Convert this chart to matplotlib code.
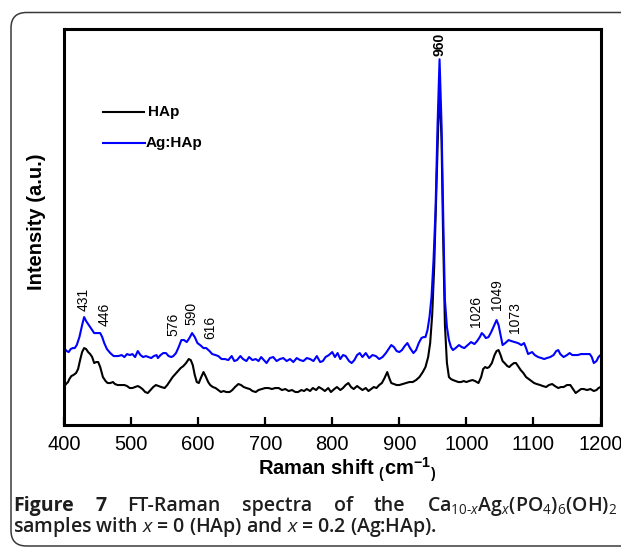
import matplotlib
matplotlib.use('Agg')
from matplotlib import pyplot as plt
import matplotlib.patches as patches

plt.rcParams['font.family'] = ['Liberation Sans', 'DejaVu Sans']
plt.rcParams['mathtext.fontset'] = 'custom'
plt.rcParams['mathtext.rm'] = 'Open Sans'
plt.rcParams['mathtext.it'] = 'Open Sans:italic'
plt.rcParams['mathtext.bf'] = 'Liberation Sans:bold'

# spectres (intensite en unites arbitraires)
wn_agHAp = [400, 404, 407, 410, 413, 416, 419, 423, 427, 430, 433, 437, 441, 445, 450, 454, 457, 460,
            464, 469, 474, 478, 481, 486, 490, 494, 498, 502, 506, 510, 514, 518, 522, 526, 530, 534,
            538, 540, 544, 548, 552, 556, 560, 563, 567, 571, 575, 579, 583, 587, 591, 595, 599, 603,
            608, 612, 617, 621, 626, 630, 635, 640, 645, 650, 654, 658, 663, 667, 672, 676, 681, 686,
            690, 694, 698, 702, 707, 712, 717, 722, 727, 732, 737, 742, 747, 752, 757, 762, 767, 772,
            777, 782, 786, 790, 795, 800, 804, 808, 812, 816, 820, 825, 829, 833, 837, 841, 845, 850,
            855, 860, 865, 870, 875, 880, 884, 888, 892, 896, 900, 904, 908, 912, 916, 921, 925, 929,
            933, 936, 939, 942, 945, 948, 951, 954, 957, 960, 963, 966, 968, 971, 974, 977, 980, 984,
            989, 993, 997, 1002, 1007, 1012, 1016, 1020, 1023, 1026, 1029, 1033, 1037, 1041, 1045,
            1048, 1051, 1054, 1058, 1063, 1067, 1072, 1077, 1082, 1086, 1089, 1092, 1095, 1098, 1102,
            1107, 1112, 1116, 1120, 1125, 1130, 1134, 1137, 1140, 1145, 1150, 1154, 1158, 1162, 1166,
            1171, 1176, 1180, 1184, 1187, 1190, 1194, 1197, 1200]
int_agHAp = [77, 74, 73, 76, 77, 77, 80, 88, 100, 108, 104, 100, 96, 92, 92, 92, 88, 82,
             76, 72, 69, 69, 69, 70, 68, 71, 70, 71, 68, 74, 70, 68, 69, 68, 67, 69,
             70, 67, 70, 72, 72, 69, 68, 69, 72, 78, 85, 85, 83, 87, 92, 88, 82, 80,
             77, 77, 74, 71, 70, 69, 66, 66, 65, 69, 64, 65, 69, 66, 64, 68, 65, 66,
             64, 68, 65, 62, 67, 68, 64, 66, 67, 64, 66, 63, 67, 65, 64, 67, 66, 64,
             69, 63, 64, 68, 70, 73, 68, 72, 66, 70, 69, 64, 62, 65, 70, 72, 68, 72,
             67, 70, 69, 66, 68, 72, 76, 80, 78, 74, 73, 75, 79, 82, 77, 72, 75, 82,
             87, 88, 88, 95, 108, 128, 165, 215, 300, 366, 300, 190, 125, 98, 85, 78, 75, 77,
             80, 78, 77, 80, 83, 81, 84, 88, 92, 90, 87, 88, 93, 99, 105,
             100, 90, 80, 82, 85, 84, 83, 82, 80, 82, 77, 71, 72, 73, 70,
             68, 67, 66, 67, 68, 70, 74, 75, 71, 68, 70, 72, 70, 70, 70,
             71, 71, 71, 71, 68, 62, 64, 68, 70]

wn_HAp = [400, 403, 406, 408, 411, 414, 418, 421, 424, 427, 430, 433, 436, 439, 442, 445, 448, 451,
          454, 458, 462, 465, 469, 473, 476, 480, 485, 490, 494, 498, 502, 506, 510, 513, 517, 521,
          525, 529, 533, 537, 541, 545, 550, 554, 558, 562, 566, 570, 574, 578, 582, 586, 589, 592,
          595, 598, 601, 604, 608, 611, 615, 618, 622, 626, 630, 634, 638, 642, 647, 651, 655, 660,
          664, 668, 672, 677, 681, 686, 690, 695, 700, 705, 710, 715, 720, 725, 730, 735, 740, 745,
          749, 754, 758, 762, 767, 771, 776, 780, 785, 789, 794, 798, 803, 807, 812, 816, 820, 824,
          828, 832, 837, 841, 845, 850, 854, 858, 862, 866, 870, 874, 878, 882, 885, 888, 892, 896,
          900, 905, 910, 915, 920, 925, 930, 935, 939, 943, 946, 949, 952, 955, 958, 960, 963, 965,
          968, 971, 974, 977, 980, 984, 988, 992, 996, 1000, 1004, 1009, 1013, 1018, 1022, 1025,
          1028, 1031, 1034, 1038, 1042, 1045, 1048, 1051, 1054, 1057, 1061, 1064, 1067, 1071, 1074,
          1078, 1081, 1085, 1089, 1093, 1097, 1101, 1105, 1110, 1114, 1119, 1123, 1128, 1132, 1137,
          1141, 1145, 1150, 1155, 1159, 1163, 1167, 1171, 1175, 1180, 1185, 1190, 1194, 1197, 1200]
int_HAp = [38, 41, 43, 46, 49, 50, 52, 56, 65, 73, 77, 76, 73, 71, 68, 62, 63, 63,
           58, 48, 44, 42, 42, 43, 41, 40, 40, 40, 39, 37, 37, 38, 39, 38, 36, 33,
           32, 35, 38, 40, 39, 38, 37, 40, 44, 48, 51, 54, 57, 59, 62, 66, 65, 60,
           50, 43, 42, 47, 53, 49, 43, 40, 38, 37, 35, 33, 34, 33, 33, 35, 38, 41,
           40, 38, 37, 36, 34, 33, 35, 36, 37, 37, 36, 37, 37, 35, 36, 34, 35, 33,
           33, 35, 34, 36, 34, 37, 35, 38, 36, 34, 37, 33, 36, 38, 35, 37, 40, 42,
           38, 36, 39, 37, 35, 37, 34, 36, 38, 37, 40, 42, 47, 53, 47, 42, 41, 40,
           40, 41, 42, 43, 43, 45, 48, 53, 58, 68, 82, 110, 158, 230, 300, 336, 285, 200,
           100, 62, 48, 46, 45, 44, 43, 43, 44, 43, 44, 45, 44, 42, 48, 56,
           58, 57, 58, 62, 70, 74, 75, 70, 64, 62, 59, 58, 60, 62, 62,
           58, 55, 52, 48, 46, 44, 42, 41, 40, 39, 38, 40, 41, 39, 37,
           38, 38, 40, 40, 36, 32, 34, 36, 36, 35, 36, 34, 35, 37, 38]

peak_labels = ['431', '446', '576', '590', '616', '960', '1026', '1049', '1073']
peak_label_x = [430, 460, 563, 590, 618, 960, 1015, 1045, 1073]
peak_label_y = [126, 111, 101, 112, 98, 381, 114, 130, 108]

xticks = [400, 500, 600, 700, 800, 900, 1000, 1100, 1200]

W, H = 621, 549
fig = plt.figure(figsize=(W / 100, H / 100), dpi=100)

# cadre arrondi autour de la figure
cadre = patches.FancyBboxPatch((11 / W, 3 / H), 640 / W, 533.5 / H,
                               boxstyle='round,pad=0,rounding_size=0.025',
                               transform=fig.transFigure, fill=False,
                               edgecolor='#3a3a3a', linewidth=1.1, mutation_aspect=W / H)
fig.patches.append(cadre)

ax = fig.add_axes([64 / W, (H - 425) / H, (600.5 - 64) / W, (425 - 29.3) / H])
ax.plot(wn_HAp, int_HAp, color='black', lw=1.5, label='HAp')
ax.plot(wn_agHAp, int_agHAp, color='#0000ff', lw=1.5, label='Ag:HAp')
ax.set_xlim(400, 1200)
ax.set_ylim(0, 396)
ax.set_yticks([])
ax.set_xticks(xticks)
ax.tick_params(axis='x', direction='in', length=6, width=1.6, labelsize=14.5, pad=7)
for s in ax.spines.values():
    s.set_linewidth(2.2)

for lab, px, py in zip(peak_labels, peak_label_x, peak_label_y):
    ax.text(px, py, lab, rotation=90, ha='center', va='center', fontsize=10,
            fontweight='bold' if lab == '960' else 'normal')

# legende faite a la main
ax.plot([458, 519], [313.5, 313.5], color='black', lw=1.5)
ax.text(526, 313.5, 'HAp', fontsize=11, fontweight='bold', va='center')
ax.plot([458, 521], [282.5, 282.5], color='#0000ff', lw=1.5)
ax.text(521, 282.5, 'Ag:HAp', fontsize=11, fontweight='bold', va='center')

fig.text(36 / W, 1 - 222 / H, 'Intensity (a.u.)', rotation=90, ha='center', va='center',
         fontsize=14.5, fontweight='bold')
fig.text(347 / W, 1 - 470 / H, r'Raman shift ${}_{\mathbf{(}}\mathbf{cm}^{\mathbf{-1}}{}_{\mathbf{)}}$',
         ha='center', va='center', fontsize=14.5, fontweight='bold')

# legende de la figure, premiere ligne justifiee
mots = [('Figure', 'bold'), ('7', 'bold'), ('FT-Raman', 'semibold'), ('spectra', 'semibold'),
        ('of', 'semibold'), ('the', 'semibold'),
        (r'Ca$_{\mathrm{10\text{-}}\mathit{x}}$Ag$_{\mathit{x}}$(PO$_{\mathrm{4}}$)$_{\mathrm{6}}$(OH)$_{\mathrm{2}}$', 'semibold')]
x0, x1 = 13, 617
objs = [fig.text(0, 1 - 506 / H, m, fontsize=14, fontweight=w, family='Open Sans',
                 va='center', color='#1e1e1e') for m, w in mots]
fig.canvas.draw()
r = fig.canvas.get_renderer()
larg = [o.get_window_extent(r).width for o in objs]
gap = (x1 - x0 - sum(larg)) / (len(objs) - 1)
x = x0
for o, l in zip(objs, larg):
    o.set_x(x / W)
    x += l + gap

fig.text(x0 / W, 1 - 527 / H, r'samples with $\mathit{x}$ = 0 (HAp) and $\mathit{x}$ = 0.2 (Ag:HAp).',
         fontsize=14, fontweight='semibold', family='Open Sans', va='center', color='#1e1e1e')

fig.savefig('out.png', dpi=100)
